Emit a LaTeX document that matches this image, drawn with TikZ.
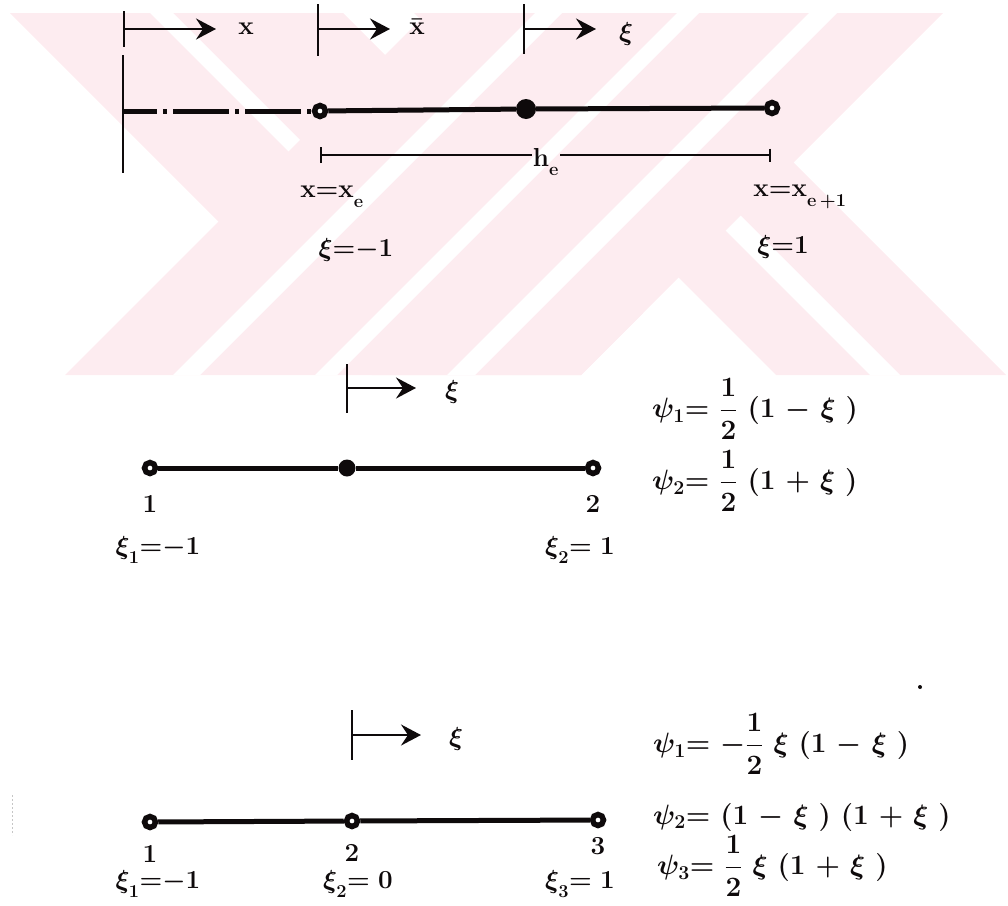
\RequirePackage{fix-cm}
\documentclass[tikz,border=0pt]{standalone}
\usepackage{amsmath}
\usepackage{tikz}
\usetikzlibrary{arrows.meta,positioning}
\definecolor{ink}{HTML}{0E0A0B}
\definecolor{wmpink}{RGB}{253,236,240}
\newcommand{\lsub}[1]{_{\raisebox{-6pt}{$\scriptstyle#1$}}}
\newcommand{\sk}{\hspace{10pt}}
\tikzset{elem/.style={line width=5pt,draw=ink},tickln/.style={line width=2.6pt,draw=ink},dirarrow/.style={line width=2.6pt,draw=ink,-{Stealth[length=20pt,width=21pt,inset=7pt]}},dimln/.style={line width=2pt,draw=ink},hollow/.style={circle,draw=ink,line width=5.5pt,fill=white,minimum size=11pt,inner sep=0pt},fulldot/.style={circle,fill=ink,minimum size=#1,inner sep=0pt},fulldot/.default=20pt,lbl/.style={font=\fontsize{26}{30}\selectfont\bfseries\boldmath,text=ink,inner sep=1pt},eqn/.style={lbl,anchor=west,font=\fontsize{28}{32}\selectfont\bfseries\boldmath}}

\begin{document}
\begin{tikzpicture}[x=1pt,y=-1pt,node distance=18pt]
\useasboundingbox (0,0) rectangle (1008,905);
\begin{scope}
\clip (0,13) rectangle (1008,375);
\fill[wmpink] (10,13) -- (343,13) -- (643,313) -- (581,375) -- (372,375) -- cycle;
\fill[wmpink] (414,13) -- (644,13) -- (1006,375) -- (776,375) -- cycle;
\fill[white] (150,13) -- (173,13) -- (535,375) -- (512,375) -- cycle;
\fill[white] (508,13) -- (538,13) -- (900,375) -- (870,375) -- cycle;
\fill[wmpink] (427,13) -- (943,13) -- (581,375) -- (65,375) -- cycle;
\foreach \a/\b in {548/575,690/712,822/850}
  \fill[white] (\a-13,13) -- (\b-13,13) -- (\b-375,375) -- (\a-375,375) -- cycle;
\end{scope}

\coordinate (ox) at (124,29);\coordinate (axe) at (216,29);
\coordinate (oxb) at (318,29);\coordinate (axb) at (390,29);
\coordinate (oxi) at (524,29);\coordinate (axi) at (596,29);
\node[lbl] (lx) at (246,29) {$\mathbf{x}$};
\node[lbl] (lxb) at (417,27) {$\bar{\mathbf{x}}$};
\node[lbl] (lxi) at (626,34) {$\xi$};
\draw[tickln] (ox) ++(0,-18) -- ++(0,36);\draw[tickln] (oxb) ++(0,-25) -- ++(0,52);\draw[tickln] (oxi) ++(0,-25) -- ++(0,50);
\draw[dirarrow] (ox) -- (axe);\draw[dirarrow] (oxb) -- (axb);\draw[dirarrow] (oxi) -- (axi);

\coordinate (orig) at (123,111);
\node[hollow] (ne) at (320,111) {};
\node[fulldot] (nm) at (526,109) {};
\node[hollow] (nf) at (772,108) {};
\draw[tickln] (orig) ++(0,-56) -- ++(0,118);
\draw[elem,dash pattern=on 56pt off 6pt on 4pt off 6pt,dash phase=22pt] (orig) -- (ne);
\draw[elem] (ne) -- (nm);\draw[elem] (nm) -- (nf);
\coordinate (hl) at (320,155);\coordinate (hr) at (771,155);
\node[lbl] (he) at (546,162) {$\mathbf{h}\lsub{\mathbf{e}}$};
\draw[dimln,{Bar[width=16pt]}-] (hl) -- (hl -| he.west);\draw[dimln,-{Bar[width=13pt]}] (hr -| he.east) -- (hr);
\node[lbl] (lxe) at (332,197) {$\mathbf{x}{=}\mathbf{x}\lsub{\mathbf{e}}$};
\node[lbl] (lxf) at (800,197) {$\mathbf{x}{=}\mathbf{x}\lsub{\mathbf{e}\,+1}$};
\node[lbl] (lxl) at (356,250) {$\xi{=}{-}1$};
\node[lbl] (lxr) at (783,247) {$\xi{=}1$};

\coordinate (oq) at (347,388);\coordinate (aq) at (416,388);
\node[lbl] (lq) at (452,392) {$\xi$};
\draw[tickln] (oq) ++(0,-24) -- ++(0,49);\draw[dirarrow] (oq) -- (aq);
\node[hollow] (q1) at (150,468) {};
\node[fulldot=17pt] (qm) at (347,468) {};
\node[hollow] (q2) at (593,468) {};
\draw[elem] (q1) -- (qm);\draw[elem] (qm) -- (q2);
\node[lbl,below=of q1] (q1n) {1};
\node[lbl,below=of q2] (q2n) {2};
\node[lbl] (q1x) at (158,550) {$\xi\lsub{1}{=}{-}1$};
\node[lbl] (q2x) at (580,550) {$\xi\lsub{2}{=}\;1$};
\node[eqn] (qpsi1) at (651,409) {$\psi_1{=}\sk\dfrac{1}{2}\sk(1\sk{-}\sk\xi\sk)$};
\node[eqn] (qpsi2) at (651,481) {$\psi_2{=}\sk\dfrac{1}{2}\sk(1\sk{+}\sk\xi\sk)$};

\coordinate (oc) at (352,735);\coordinate (ac) at (421,735);
\node[lbl] (lc) at (456,739) {$\xi$};
\draw[tickln] (oc) ++(0,-25) -- ++(0,50);\draw[dirarrow] (oc) -- (ac);
\node[hollow] (c1) at (150,822) {};
\node[hollow] (c2) at (352,821) {};
\node[hollow] (c3) at (598,820) {};
\draw[elem] (c1) -- (c2);\draw[elem] (c2) -- (c3);
\node[lbl,below=14pt of c1] (c1n) {1};
\node[lbl,below=14pt of c2] (c2n) {2};
\node[lbl,below=8pt of c3] (c3n) {3};
\node[lbl] (c1x) at (158,884) {$\xi\lsub{1}{=}{-}1$};
\node[lbl] (c2x) at (358,884) {$\xi\lsub{2}{=}\;0$};
\node[lbl] (c3x) at (580,884) {$\xi\lsub{3}{=}\;1$};
\node[eqn] (cpsi1) at (652,744) {$\psi_1{=}\sk{-}\dfrac{1}{2}\sk\xi\sk(1\sk{-}\sk\xi\sk)$};
\node[eqn] (cpsi2) at (652,817) {$\psi_2{=}\sk(1\sk{-}\sk\xi\sk)\sk(1\sk{+}\sk\xi\sk)$};
\node[eqn] (cpsi3) at (656,866) {$\psi_3{=}\sk\dfrac{1}{2}\sk\xi\sk(1\sk{+}\sk\xi\sk)$};
\fill[ink] (920,687) circle (2);
\draw[gray!45,line width=1pt,dash pattern=on 2pt off 2pt] (12,795) -- (12,835);
\end{tikzpicture}
\end{document}
